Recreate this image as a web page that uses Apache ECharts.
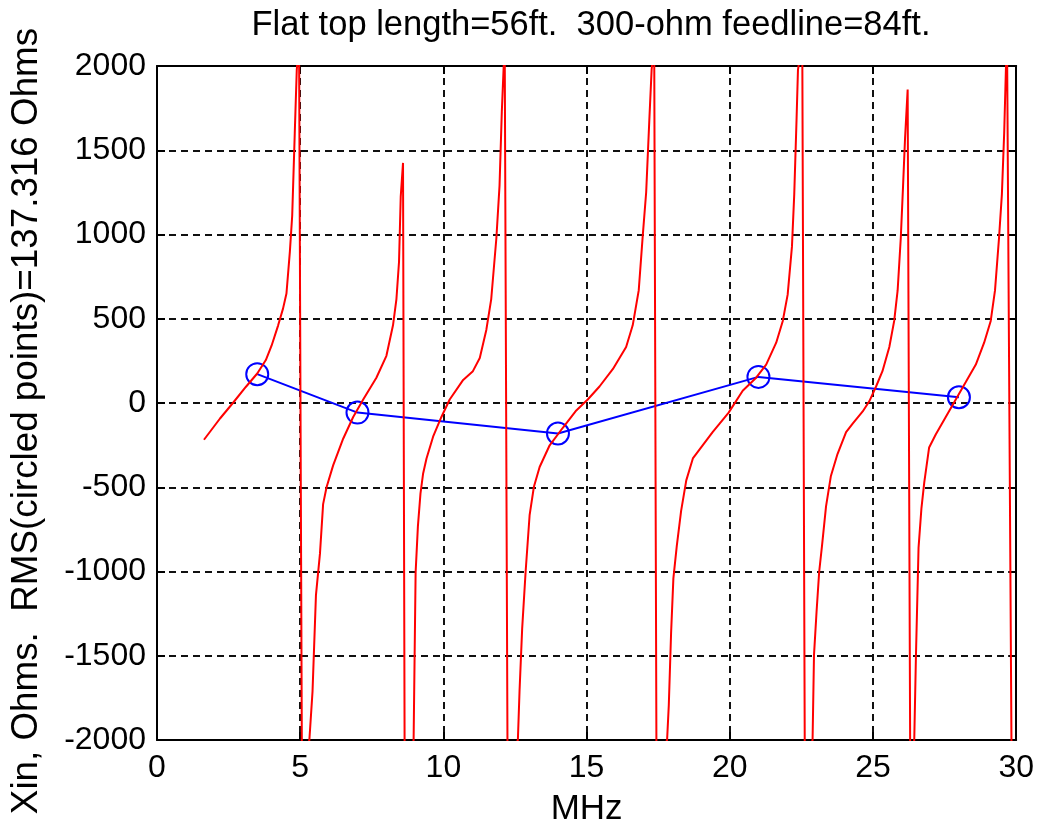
<!DOCTYPE html>
<html>
<head>
<meta charset="utf-8">
<script src="https://cdn.jsdelivr.net/npm/echarts@6/dist/echarts.min.js"></script>
<style>
  html, body { margin: 0; padding: 0; background: #ffffff; }
  #chart { width: 1037px; height: 834px; }
</style>
</head>
<body>
<div id="chart"></div>
<script>
// ---- Data ----
const titleText = 'Flat top length=56ft.  300-ohm feedline=84ft.';
const xAxisTitle = 'MHz';
const yAxisTitle = 'Xin, Ohms.  RMS(circled points)=137.316 Ohms';

const xTicks = [0, 5, 10, 15, 20, 25, 30];
const yTicks = [-2000, -1500, -1000, -500, 0, 500, 1000, 1500, 2000];

// Input reactance (red trace); values beyond ±2000 are the off-scale jumps at resonances
const reactanceMHz = [
  1.64, 2.2, 2.65, 3.1, 3.5, 3.8, 4.0, 4.23, 4.4, 4.52, 4.64, 4.72, 4.81, 4.88, 4.96,
  5.06,
  5.32, 5.43, 5.55, 5.69, 5.80, 5.92, 6.15, 6.5, 6.85, 7.2, 7.66, 8.01, 8.24, 8.36, 8.45, 8.51, 8.59,
  8.65,
  8.96, 9.03, 9.11, 9.2, 9.29, 9.41, 9.64, 9.93, 10.22, 10.69, 11.03, 11.27, 11.5, 11.67, 11.85, 11.96, 12.04, 12.10, 12.14,
  12.24,
  12.60, 12.66, 12.75, 12.87, 13.01, 13.16, 13.36, 13.71, 14.17, 14.64, 15.04, 15.45, 15.92, 16.38, 16.61, 16.82, 16.96, 17.08, 17.19, 17.27, 17.36,
  17.44,
  17.81, 17.87, 17.95, 18.03, 18.15, 18.30, 18.48, 18.71, 18.94, 19.4, 19.96, 20.45, 20.92, 21.27, 21.62, 21.85, 22.02, 22.17, 22.25, 22.33, 22.38, 22.53,
  22.62,
  22.89, 22.94, 23.03, 23.12, 23.22, 23.36, 23.53, 23.76, 24.06, 24.29, 24.64, 24.87, 25.1, 25.33, 25.57, 25.74, 25.86, 25.97, 26.05, 26.12, 26.21,
  26.30,
  26.44, 26.50, 26.59, 26.69, 26.79, 26.96, 27.19, 27.54, 27.89, 28.24, 28.59, 28.88, 29.11, 29.26, 29.40, 29.50, 29.58, 29.64, 29.68,
  29.84
];
const reactanceOhms = [
  -218, -92, 0, 95, 175, 255, 340, 461, 560, 650, 900, 1110, 1600, 1977, 2150,
  -2150,
  -2000, -1713, -1140, -894, -600, -500, -370, -212, -83, 21, 150, 280, 461, 617, 837, 1225, 1425,
  -2300,
  -2000, -1005, -731, -536, -420, -329, -200, -83, 21, 137, 189, 267, 435, 617, 979, 1290, 1731, 1977, 2150,
  -2150,
  -2000, -1702, -1339, -1003, -666, -497, -380, -251, -147, -44, 21, 98, 202, 332, 461, 668, 992, 1251, 1679, 1977, 2150,
  -2150,
  -2000, -1793, -1365, -1041, -847, -640, -459, -329, -277, -173, -57, 73, 150, 228, 358, 487, 643, 928, 1238, 1679, 1977, 2150,
  -2150,
  -2000, -1495, -1236, -1003, -847, -614, -433, -303, -173, -122, -50, 10, 95, 189, 332, 487, 668, 979, 1290, 1575, 1860,
  -2150,
  -2000, -1495, -860, -627, -471, -264, -187, -83, 21, 124, 228, 358, 487, 668, 979, 1238, 1601, 1977, 2150,
  -2150
];

// Circled band points (blue)
const bandMHz = [3.5, 7, 14, 21, 28];
const bandXin = [171, -57, -181, 155, 34];

// ---- Chart ----
const chart = echarts.init(document.getElementById('chart'), null, { renderer: 'canvas' });

const redData = reactanceMHz.map((x, i) => [x, reactanceOhms[i]]);
const blueData = bandMHz.map((x, i) => [x, bandXin[i]]);

const FONT = 'Liberation Sans, Arial, sans-serif';
const gridLine = { show: true, lineStyle: { color: '#111', width: 2, type: [7, 5] } };
const plain = v => String(v);

const option = {
  backgroundColor: '#ffffff',
  animation: false,
  title: {
    text: titleText,
    left: 586,
    top: 3,
    textAlign: 'center',
    textStyle: { fontFamily: FONT, fontSize: 34.5, fontWeight: 'normal', color: '#000' }
  },
  graphic: [{
    type: 'text',
    x: 27,
    y: 421,
    rotation: Math.PI / 2,
    style: {
      text: yAxisTitle,
      font: '36.8px ' + FONT,
      fill: '#000',
      align: 'center',
      verticalAlign: 'middle'
    }
  }],
  grid: { left: 157, right: 20, top: 66, bottom: 94, containLabel: false },
  xAxis: [{
    type: 'value',
    min: xTicks[0],
    max: xTicks[xTicks.length - 1],
    interval: 5,
    position: 'bottom',
    name: xAxisTitle,
    nameLocation: 'middle',
    nameGap: 52,
    nameTextStyle: { fontFamily: FONT, fontSize: 35, color: '#000' },
    axisLine: { show: true, onZero: false, lineStyle: { color: '#000', width: 2 } },
    axisTick: { show: true, inside: true, length: 8, lineStyle: { color: '#000', width: 2 } },
    axisLabel: { fontFamily: FONT, fontSize: 32, color: '#000', margin: 12, formatter: plain },
    splitLine: gridLine
  }, {
    type: 'value',
    min: xTicks[0],
    max: xTicks[xTicks.length - 1],
    interval: 5,
    position: 'top',
    axisLine: { show: true, onZero: false, lineStyle: { color: '#000', width: 2 } },
    axisTick: { show: true, inside: true, length: 8, lineStyle: { color: '#000', width: 2 } },
    axisLabel: { show: false },
    splitLine: { show: false }
  }],
  yAxis: [{
    type: 'value',
    min: yTicks[0],
    max: yTicks[yTicks.length - 1],
    interval: 500,
    position: 'left',
    axisLine: { show: true, onZero: false, lineStyle: { color: '#000', width: 2 } },
    axisTick: { show: true, inside: true, length: 8, lineStyle: { color: '#000', width: 2 } },
    axisLabel: { fontFamily: FONT, fontSize: 32, color: '#000', margin: 11, formatter: plain },
    splitLine: gridLine
  }, {
    type: 'value',
    min: yTicks[0],
    max: yTicks[yTicks.length - 1],
    interval: 500,
    position: 'right',
    axisLine: { show: true, onZero: false, lineStyle: { color: '#000', width: 2 } },
    axisTick: { show: true, inside: true, length: 8, lineStyle: { color: '#000', width: 2 } },
    axisLabel: { show: false },
    splitLine: { show: false }
  }],
  series: [{
    type: 'line',
    name: 'Xin',
    data: redData,
    xAxisIndex: 0,
    yAxisIndex: 0,
    showSymbol: false,
    symbol: 'none',
    clip: true,
    lineStyle: { color: '#ff0000', width: 2 },
    z: 3
  }, {
    type: 'line',
    name: 'bands',
    data: blueData,
    xAxisIndex: 0,
    yAxisIndex: 0,
    symbol: 'circle',
    symbolSize: 22,
    showSymbol: true,
    clip: true,
    lineStyle: { color: '#0000ff', width: 2 },
    itemStyle: { color: 'rgba(0,0,0,0)', borderColor: '#0000ff', borderWidth: 2 },
    z: 2
  }]
};

chart.setOption(option);
</script>
</body>
</html>
